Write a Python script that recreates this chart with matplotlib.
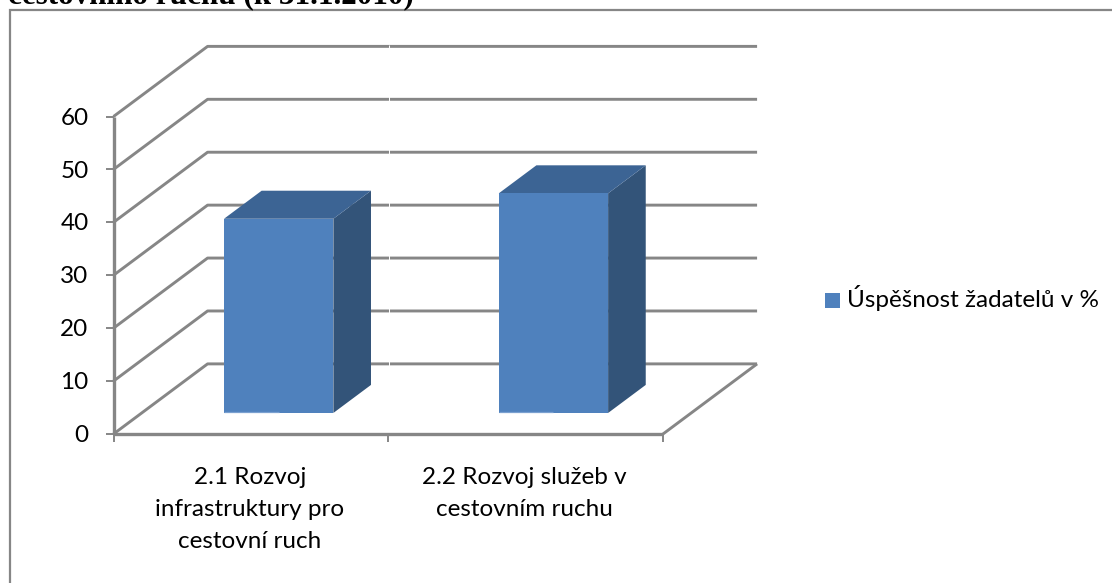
import matplotlib
matplotlib.use("Agg")
import matplotlib.pyplot as plt
from matplotlib.patches import Polygon, Rectangle

# --- data
categories = ["2.1 Rozvoj\ninfrastruktury pro\ncestovní ruch", "2.2 Rozvoj služeb v\ncestovním ruchu"]
series_name = "Úspěšnost žadatelů v %"
values = [36.7, 41.5]
y_ticks = [0, 10, 20, 30, 40, 50, 60]
title = "cestovního ruchu (k 31.1.2010)"

# --- style / layout
W, H = 1112, 583
plt.rcParams["font.family"] = ["Lato", "DejaVu Sans"]
GRID = "#868686"
FRONT = "#4f81bd"
SIDE = "#335479"
TOP = "#3c6494"
SHEEN = "#7aa0d0"
DX, DY = 0.3424, 13.25      # depth vector of the whole floor in data units
D0, D1 = 0.30, 0.70         # bar depth span as a fraction of floor depth
BAR_W = 0.398
FS = 17.5

fig = plt.figure(figsize=(W / 100, H / 100), dpi=100)
ax = fig.add_axes([113.5 / W, 1 - 434 / H, (663 - 113.5) / W, (434 - 116.5) / H])
ax.set_xlim(0, 2)
ax.set_ylim(0, 60)
ax.axis("off")

def proj(x, y, d):
    return (x + DX * d, y + DY * d)

def poly(points, **kw):
    ax.add_patch(Polygon(points, closed=True, clip_on=False, **kw))

def line(xs, ys, lw=2.0, color=GRID, **kw):
    ax.plot(xs, ys, color=color, lw=lw, clip_on=False, solid_capstyle="butt", **kw)

# gridlines: diagonal on side wall + horizontal on back wall
for t in y_ticks:
    a, b, c = proj(0, t, 0), proj(0, t, 1), proj(2, t, 1)
    line([a[0], b[0], c[0]], [a[1], b[1], c[1]], lw=2.1)
    line([a[0] - 0.029, a[0]], [a[1], a[1]], lw=1.4)
    ax.text(a[0] - 0.091, t - 0.3, str(t), ha="right", va="center", fontsize=FS, color="black")

# faint break in the back-wall lines
line([1.003, 1.003], [10, 73.5], lw=0.7, color="white", zorder=2.5)

# floor and axes
line([0, 0], [0, 60], lw=2.4)
line([0, 2], [0, 0], lw=2.4)
fr, br = proj(2, 0, 0), proj(2, 0, 1)
line([fr[0], br[0]], [fr[1], br[1]], lw=2.1)
for i in range(3):
    line([i, i], [0, -1.6], lw=1.4)

# bars
for i, v in enumerate(values):
    xc = i + 0.4985
    x0, x1 = xc - BAR_W / 2, xc + BAR_W / 2
    poly([proj(x1, 0, D0), proj(x1, 0, D1), proj(x1, v, D1), proj(x1, v, D0)], fc=SIDE, ec="none", zorder=3)
    poly([proj(x0, v, D0), proj(x1, v, D0), proj(x1, v, D1), proj(x0, v, D1)], fc=TOP, ec="none", zorder=3)
    poly([proj(x0, 0, D0), proj(x1, 0, D0), proj(x1, v, D0), proj(x0, v, D0)], fc=FRONT, ec="none", zorder=3)
    s0, s1 = proj(x0, 0.12, D0), proj(xc, 0.12, D0)
    line([s0[0], s1[0]], [s0[1], s1[1]], lw=0.9, color=SHEEN, zorder=3.5)
    ax.text(i + 0.497, -6.2, categories[i], ha="center", va="top", fontsize=FS,
            color="black", linespacing=1.66)

# legend
fig.add_artist(Rectangle((825 / W, 1 - 308 / H), 15 / W, 15 / H, transform=fig.transFigure,
                         fc=FRONT, ec="none"))
fig.text(847 / W, 1 - 307 / H, series_name, ha="left", va="baseline", fontsize=FS, color="black")

# chart frame
fig.add_artist(Rectangle((10 / W, -5 / H), (1200) / W, (H + 5 - 10) / H, transform=fig.transFigure,
                         fc="none", ec=GRID, lw=1.6))

# clipped heading
fig.text(8 / W, 1 - 3.5 / H, title, ha="left", va="baseline", fontsize=22.4, fontweight="bold",
         family=["Liberation Serif"], color="black")

fig.savefig("out.png", dpi=100)
